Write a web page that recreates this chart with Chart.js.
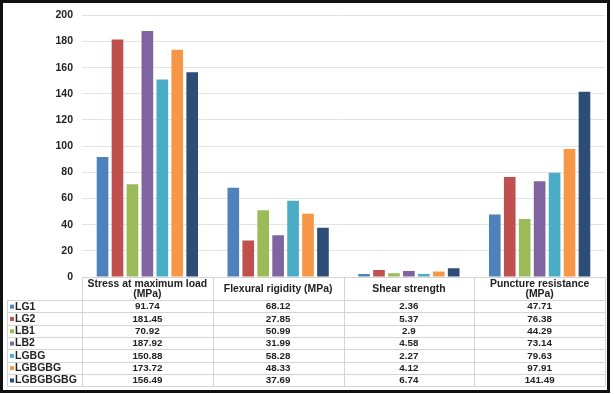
<!DOCTYPE html>
<html>
<head>
<meta charset="utf-8">
<script src="https://cdn.jsdelivr.net/npm/chart.js@4"></script>
<style>
  html, body { margin: 0; padding: 0; background: #fff; }
  #wrap { position: relative; width: 614px; height: 394px; }
</style>
</head>
<body>
<div id="wrap"><canvas id="chart" width="614" height="394"></canvas></div>
<script>
const categories = ['Stress at maximum load (MPa)', 'Flexural rigidity (MPa)', 'Shear strength', 'Puncture resistance (MPa)'];
const headerLines = [['Stress at maximum load', '(MPa)'], ['Flexural rigidity (MPa)'], ['Shear strength'], ['Puncture resistance', '(MPa)']];
const seriesNames = ['LG1', 'LG2', 'LB1', 'LB2', 'LGBG', 'LGBGBG', 'LGBGBGBG'];
const seriesColors = ['#4f81bd', '#c0504d', '#9bbb59', '#8064a2', '#4bacc6', '#f79646', '#2c4d75'];

const LG1 = [91.74, 68.12, 2.36, 47.71];
const LG2 = [181.45, 27.85, 5.37, 76.38];
const LB1 = [70.92, 50.99, 2.9, 44.29];
const LB2 = [187.92, 31.99, 4.58, 73.14];
const LGBG = [150.88, 58.28, 2.27, 79.63];
const LGBGBG = [173.72, 48.33, 4.12, 97.91];
const LGBGBGBG = [156.49, 37.69, 6.74, 141.49];
const seriesValues = [LG1, LG2, LB1, LB2, LGBG, LGBGBG, LGBGBGBG];
// table keeps the original text of each value
const valueText = [
  ['91.74', '68.12', '2.36', '47.71'],
  ['181.45', '27.85', '5.37', '76.38'],
  ['70.92', '50.99', '2.9', '44.29'],
  ['187.92', '31.99', '4.58', '73.14'],
  ['150.88', '58.28', '2.27', '79.63'],
  ['173.72', '48.33', '4.12', '97.91'],
  ['156.49', '37.69', '6.74', '141.49']
];

const FAMILY = '"Liberation Sans", Arial, sans-serif';
const TEXT = '#222';
const LINE = '#d4d4d4';

const dataTablePlugin = {
  id: 'dataTable',
  afterDraw(chart) {
    const {ctx, chartArea, scales} = chart;
    const x = scales.x;
    const left = chartArea.left, right = chartArea.right;
    const colW = (right - left) / categories.length;
    const top = chartArea.bottom;
    const headBottom = top + 23;
    const rowH = 12.3;
    const bottom = headBottom + rowH * seriesNames.length;
    const tableLeft = 7;

    ctx.save();
    ctx.strokeStyle = LINE;
    ctx.lineWidth = 1;
    ctx.beginPath();
    ctx.moveTo(left, top + 0.5); ctx.lineTo(right, top + 0.5);
    for (let r = 0; r <= seriesNames.length; r++) {
      const y = Math.round(headBottom + r * rowH) + 0.5;
      ctx.moveTo(tableLeft, y); ctx.lineTo(right, y);
    }
    ctx.moveTo(tableLeft + 0.5, headBottom); ctx.lineTo(tableLeft + 0.5, bottom);
    for (let c = 0; c <= categories.length; c++) {
      const xx = Math.round(left + c * colW) + 0.5;
      ctx.moveTo(xx, top); ctx.lineTo(xx, bottom);
    }
    ctx.stroke();

    ctx.fillStyle = TEXT;
    ctx.textAlign = 'center';
    ctx.textBaseline = 'middle';
    ctx.font = 'bold 10.4px ' + FAMILY;
    headerLines.forEach((lines, i) => {
      const cx = x.getPixelForValue(i);
      const mid = (top + headBottom) / 2 + 0.5;
      lines.forEach((t, j) => {
        ctx.fillText(t, cx, mid + (j - (lines.length - 1) / 2) * 10);
      });
    });

    seriesNames.forEach((name, r) => {
      const cy = headBottom + r * rowH + rowH / 2 + 0.5;
      ctx.fillStyle = seriesColors[r];
      ctx.fillRect(tableLeft + 3, cy - 2, 4, 4);
      ctx.fillStyle = TEXT;
      ctx.textAlign = 'left';
      ctx.font = 'bold 10.5px ' + FAMILY;
      ctx.fillText(name, tableLeft + 8, cy);
      ctx.textAlign = 'center';
      ctx.font = 'bold 9.8px ' + FAMILY;
      valueText[r].forEach((v, i) => {
        ctx.fillText(v, x.getPixelForValue(i), cy);
      });
    });

    ctx.strokeStyle = '#111';
    ctx.lineWidth = 3;
    ctx.strokeRect(1.5, 1.5, 607, 390);
    ctx.restore();
  }
};

new Chart(document.getElementById('chart'), {
  type: 'bar',
  data: {
    labels: categories,
    datasets: seriesNames.map((name, i) => ({
      label: name,
      data: seriesValues[i],
      backgroundColor: seriesColors[i],
      borderWidth: 0,
      categoryPercentage: 0.8,
      barPercentage: 0.78
    }))
  },
  options: {
    responsive: false,
    animation: false,
    layout: { padding: { left: 0, right: 9, top: 5, bottom: 117 } },
    plugins: { legend: { display: false }, tooltip: { enabled: false } },
    scales: {
      x: { display: false },
      y: {
        min: 0, max: 200,
        ticks: { stepSize: 20, padding: 9, color: TEXT, font: { family: FAMILY, size: 10.5, weight: 'bold' } },
        grid: { color: '#e3e3e3', drawTicks: false },
        border: { display: false },
        afterFit(scale) { scale.width = 82; }
      }
    }
  },
  plugins: [dataTablePlugin]
});
</script>
</body>
</html>
